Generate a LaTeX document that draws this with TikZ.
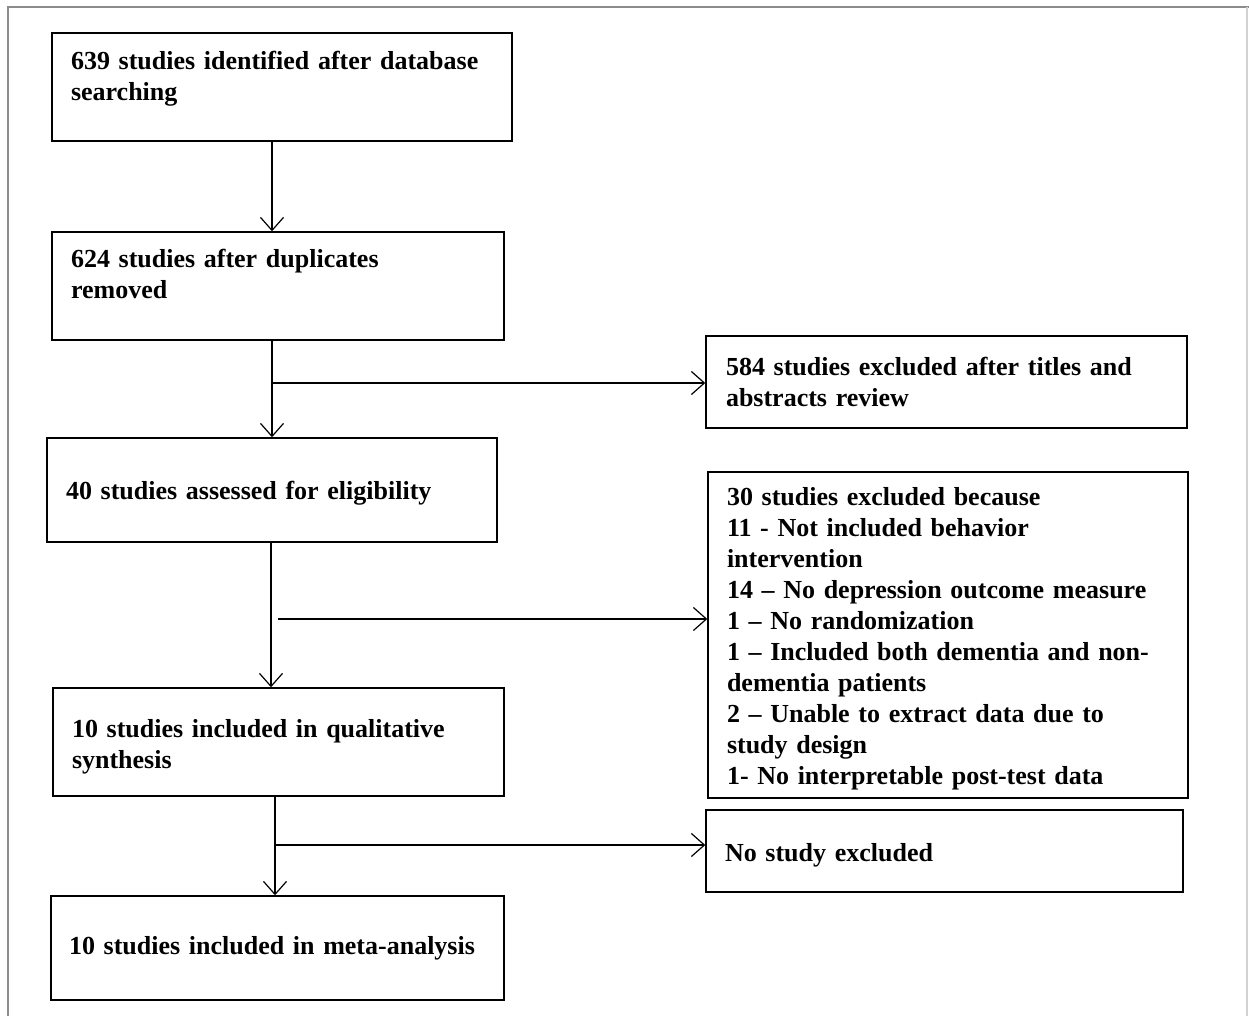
\documentclass[tikz,border=0pt]{standalone}
\usepackage{fontspec}
\setmainfont{Liberation Serif}
\usetikzlibrary{arrows.meta}
\begin{document}
\begin{tikzpicture}[x=1pt,y=-1pt,
  box/.style={draw=black, line width=1.4pt, rectangle, inner xsep=19pt, inner ysep=0pt,
    align=left, font=\fontsize{26}{31}\selectfont\bfseries, anchor=center},
  arr/.style={line width=1.4pt, -{Straight Barb[length=13pt,width=23pt,line width=1.2pt]}},
  frameline/.style={line width=1.5pt}]
\useasboundingbox (0,0) rectangle (1249,1016);
\fill[white] (0,0) rectangle (1249,1016);
% outer frame
\draw[frameline, draw=gray!90] (8,1016) -- (8,7) -- (1249,7);
\draw[frameline, draw=gray!35] (1247,7) -- (1247,1016);
% left column
\node[box, minimum width=460pt, minimum height=108pt, text width=422pt, text depth=54pt] (b1) at (282,87)
  {639 studies identified after database\\searching};
\node[box, minimum width=452pt, minimum height=108pt, text width=414pt, text depth=56pt] (b2) at (278,286)
  {624 studies after duplicates\\removed};
\node[box, minimum width=450pt, minimum height=104pt, text width=412pt, text height=24pt] (b3) at (272,490)
  {40 studies assessed for eligibility};
\node[box, minimum width=451pt, minimum height=108pt, text width=413pt, text height=28pt] (b4) at (278.5,742)
  {10 studies included in qualitative\\synthesis};
\node[box, minimum width=453pt, minimum height=104pt, text width=417pt, inner xsep=17pt] (b5) at (277.5,948)
  {10 studies included in meta-analysis};
% right column
\node[box, minimum width=481pt, minimum height=92pt, text width=441pt, inner xsep=20pt] (r1) at (946.5,382)
  {584 studies excluded after titles and\\abstracts review};
\node[box, minimum width=480pt, minimum height=326pt, text width=442pt, text height=26pt] (r2) at (948,635)
  {30 studies excluded because\\
   11 - Not included behavior\\
   intervention\\
   14 -- No depression outcome measure\\
   1 -- No randomization\\
   1 -- Included both dementia and non-\\
   dementia patients\\
   2 -- Unable to extract data due to\\
   study design\\
   1- No interpretable post-test data};
\node[box, minimum width=477pt, minimum height=82pt, text width=439pt, text height=26pt] (r3) at (944.5,851)
  {No study excluded};
% junction coordinates
\coordinate (x1) at (272,0);
\coordinate (x2) at (272,0);
\coordinate (x3) at (271,0);
\coordinate (x4) at (275,0);
\coordinate (j1) at (272,383);
\coordinate (j2) at (278,619);
\coordinate (j3) at (275,845);
% connectors
\draw[arr] (b1.south -| x1) -- (b2.north -| x1);
\draw[arr] (b2.south -| x2) -- (b3.north -| x2);
\draw[arr] (j1) -- (j1 -| r1.west);
\draw[arr] (b3.south -| x3) -- (b4.north -| x3);
\draw[arr] (j2) -- (j2 -| r2.west);
\draw[arr] (b4.south -| x4) -- (b5.north -| x4);
\draw[arr] (j3) -- (j3 -| r3.west);
\end{tikzpicture}
\end{document}
